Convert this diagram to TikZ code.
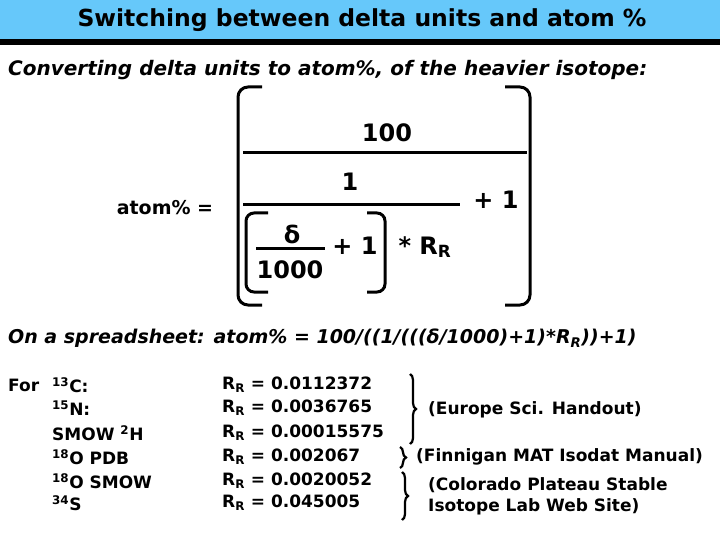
\documentclass[tikz,border=0pt]{standalone}
\usepackage{fontspec}
\setmainfont{DejaVu Sans}
\usetikzlibrary{decorations.pathreplacing}

\definecolor{titleblue}{RGB}{102,200,250}

\tikzset{
	txt/.style={anchor=west, inner sep=0pt, font=\fontsize{17}{21}\bfseries\selectfont},
	big/.style={inner sep=0pt, font=\fontsize{24}{28}\bfseries\selectfont},
	brk/.style={line width=3pt, rounded corners=10pt},
	frac/.style={line width=3pt},
	brc/.style={decorate, decoration={brace, amplitude=6pt}, line width=2.2pt}
}

\begin{document}
\begin{tikzpicture}[x=1pt, y=-1pt]
		\useasboundingbox (0,0) rectangle (720,540);

		% title bar
		\fill[titleblue] (0,0) rectangle (720,40);
		\fill[black] (0,39) rectangle (720,45);
		\node[font=\fontsize{23.5}{26}\bfseries\selectfont] (title) at (362,20) {Switching between delta units and atom \%};

		\node[txt, font=\fontsize{20}{24}\bfseries\itshape\selectfont] (conv) at (8,70) {Converting delta units to atom\%, of the heavier isotope:};

		% formula
		\node[big, font=\fontsize{19}{22}\bfseries\selectfont] (atom) at (165,208) {atom\% =};
		\draw[brk] (262,87) -| (238,305) -- (262,305);
		\draw[brk] (505,87) -| (530,305) -- (505,305);

		\node[big] (hundred) at (387,133) {100};
		\draw[frac] (243,153) -- (527,153);
		\node[big] (one) at (350,182) {1};
		\draw[frac] (243,205) -- (460,205);
		\node[big] (plusone) at (496,200) {+ 1};

		\draw[brk, rounded corners=8pt] (268,213) -| (246,292) -- (268,292);
		\draw[brk, rounded corners=8pt] (367,213) -| (385,292) -- (367,292);
		\node[big] (delta) at (292,234) {δ};
		\draw[frac] (256,248) -- (325,248);
		\node[big] (thousand) at (290,270) {1000};
		\node[big] (plusin) at (355,246) {+ 1};
		\node[big] (rr) at (425,247) {* R\textsubscript{R}};

		\node[txt, font=\fontsize{19}{22}\bfseries\itshape\selectfont] (sheet) at (8,338)
			{On a spreadsheet: atom\% = 100/((1/(((δ/1000)+1)*R\textsubscript{R}))+1)};

		% reference ratios
		\node[txt] (for) at (8,385) {For};
		\foreach \y/\iso/\val in {385/\textsuperscript{13}C:/0.0112372,
				408/\textsuperscript{15}N:/0.0036765,
				433/SMOW \textsuperscript{2}H/0.00015575,
				457/\textsuperscript{18}O PDB/0.002067,
				481/\textsuperscript{18}O SMOW/0.0020052,
				503/\textsuperscript{34}S/0.045005}{
			\node[txt] at (52,\y) {\iso};
			\node[txt] at (222,\y) {R\textsubscript{R} = \val};
		}

		\draw[brc] (410,374) -- (410,444);
		\node[txt] (europe) at (428,410) {(Europe Sci. Handout)};
		\draw[brc] (400,447) -- (400,468);
		\node[txt] (finnigan) at (416,457) {(Finnigan MAT Isodat Manual)};
		\draw[brc] (402,472) -- (402,520);
		\node[txt, align=left] (colorado) at (428,496) {(Colorado Plateau Stable\\Isotope Lab Web Site)};
\end{tikzpicture}
\end{document}
